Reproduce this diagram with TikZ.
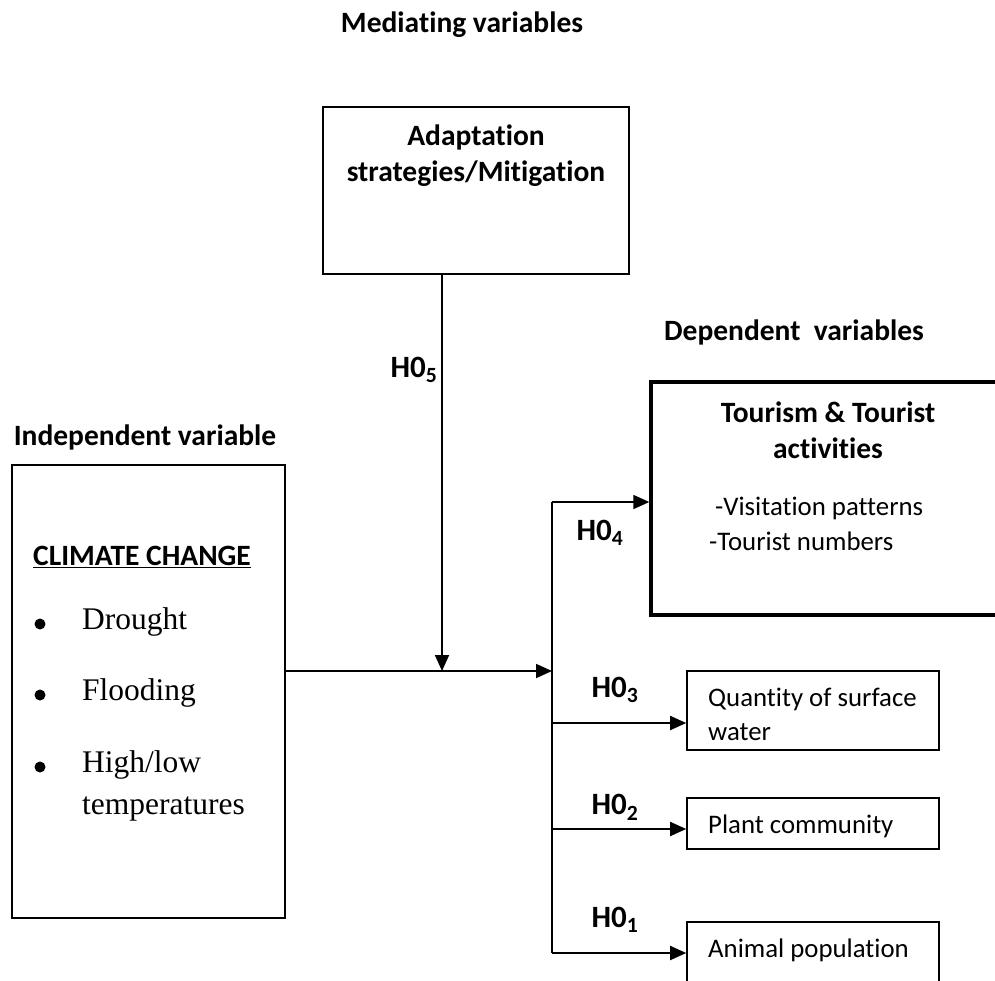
\documentclass[tikz,border=0pt]{standalone}
\usepackage{fontspec}
\setmainfont{Carlito}[Ligatures=NoCommon]
\newfontfamily\tnr{Liberation Serif}
\usetikzlibrary{positioning}
\usetikzlibrary{arrows.meta}

\tikzset{
  box/.style={draw, line width=1.6pt, inner sep=0pt},
  thickbox/.style={box, line width=3.4pt},
  head/.style={font=\fontsize{29.5}{36}\selectfont\bfseries, align=center, inner sep=0pt},
  txt/.style={font=\fontsize{26.8}{34}\selectfont, align=left, inner sep=0pt, anchor=west},
  hyp/.style={font=\fontsize{31}{34}\selectfont\bfseries, inner sep=0pt},
  bul/.style={font=\fontsize{31.5}{42}\selectfont\tnr, align=left, inner sep=0pt, anchor=west},
  dot/.style={circle, fill, inner sep=0pt, minimum size=11pt},
  link/.style={line width=1.8pt},
  arrow/.style={link, -{Triangle[length=16pt, width=14pt]}}
}

\begin{document}
\begin{tikzpicture}[x=1pt, y=-1pt]
  \useasboundingbox (0,0) rectangle (995,980);

  % Define nodes
  \node[box, minimum width=306pt, minimum height=167pt] (adapt) at (476,190.5) {};
  \node[box, minimum width=273pt, minimum height=453pt] (indep) at (148.5,691.5) {};
  \node[thickbox, minimum width=354pt, minimum height=233pt] (tour) at (828,498.5) {};
  \node[box, minimum width=252pt, minimum height=79pt] (qty) at (813,710.5) {};
  \node[box, minimum width=252pt, minimum height=51pt] (plant) at (813,823.5) {};
  \node[box, minimum width=252pt, minimum height=80pt] (animal) at (813,962) {};

  % Headings
  \node[head] (medh) at (462,25) {Mediating variables};
  \node[head] (deph) at (794,332) {Dependent~~variables};
  \node[head] (indh) at (145,437) {Independent variable};

  % Box texts
  \node[head] (adaptt) at (476,156) {Adaptation\\strategies/Mitigation};
  \node[head] (tourt) at (828,430) {Tourism \& Tourist\\activities};
  \node[txt] (visit) at (715,508) {-Visitation patterns};
  \node[txt] (tnum) at (709,541) {-Tourist numbers};
  \node[txt] (qtyt) at (708,714) {Quantity of surface\\water};
  \node[txt] (plantt) at (708,826) {Plant community};
  \node[txt] (animalt) at (708,950) {Animal population};
  \node[head, anchor=west] (cc) at (33,557) {\underline{CLIMATE CHANGE}};
  \node[bul] (b1) at (82,622) {Drought};
  \node[bul] (b2) at (82,693) {Flooding};
  \node[bul] (b3) at (82,786) {High/low\\temperatures};
  \foreach \y/\n in {622/d1, 693/d2, 765/d3}
    \node[dot] (\n) at (40,\y+2) {};

  % Hypothesis labels
  \node[hyp] (h5) at (414,370) {H0\textsubscript{5}};
  \node[hyp] (h4) at (600,533) {H0\textsubscript{4}};
  \node[hyp] (h3) at (615,690) {H0\textsubscript{3}};
  \node[hyp] (h2) at (615,807) {H0\textsubscript{2}};
  \node[hyp] (h1) at (615,920) {H0\textsubscript{1}};

  % Junctions
  \coordinate (join) at (442,671);
  \coordinate (bus) at (552,671);
  \coordinate (bus4) at (552,502);
  \coordinate (bus3) at (552,723);
  \coordinate (bus2) at (552,829);
  \coordinate (bus1) at (552,953);

  % Connect nodes
  \draw[arrow] (adapt.south -| join) -- (join);
  \draw[arrow] (indep.east |- bus) -- (bus);
  \draw[link] (bus4) -- (bus1);
  \draw[arrow] (bus4) -- (bus4 -| tour.west);
  \draw[arrow] (bus3) -- (bus3 -| qty.west);
  \draw[arrow] (bus2) -- (bus2 -| plant.west);
  \draw[arrow] (bus1) -- (bus1 -| animal.west);

\end{tikzpicture}
\end{document}
